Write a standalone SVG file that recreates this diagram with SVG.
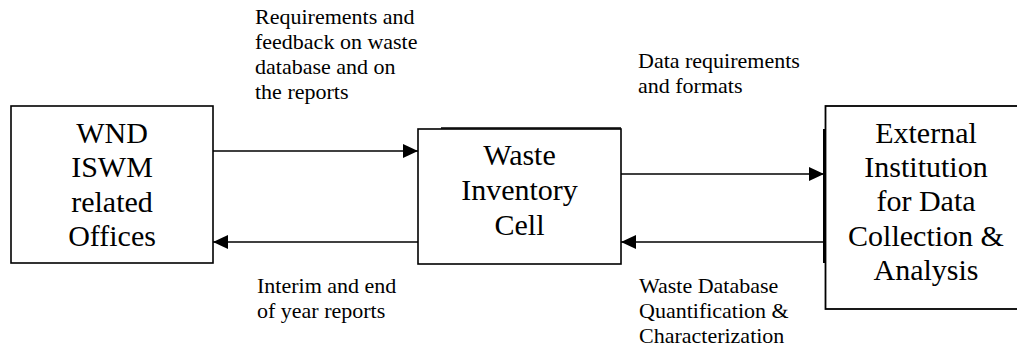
<svg xmlns="http://www.w3.org/2000/svg" width="1017" height="349" viewBox="0 0 1017 349">
<style>
.box{fill:#fff;stroke:#000;stroke-width:1.6}
.conn{stroke:#000;stroke-width:1.6;fill:none}
.bt{font-size:30px;fill:#000;text-anchor:middle}
.lt{font-size:22px;fill:#000}
</style>
<defs>
<marker id="ah" markerUnits="userSpaceOnUse" markerWidth="15" markerHeight="14" refX="15" refY="7" orient="auto">
<path d="M0,0 L15,7 L0,14 z" fill="#000"/>
</marker>
</defs>
<rect width="1017" height="349" fill="#fff"/>
<g id="connectors">
<line class="conn" x1="213" y1="151" x2="418" y2="151" marker-end="url(#ah)"/>
<line class="conn" x1="418" y1="242" x2="213" y2="242" marker-end="url(#ah)"/>
<line class="conn" x1="621" y1="174" x2="824" y2="174" marker-end="url(#ah)"/>
<line class="conn" x1="824" y1="242" x2="621" y2="242" marker-end="url(#ah)"/>
</g>
<g font-family="Liberation Serif, Times New Roman, DejaVu Serif, serif">
<g id="node-wnd">
<rect class="box" x="11" y="106" width="202" height="157"/>
<text class="bt" x="112" y="143">WND</text>
<text class="bt" x="112" y="177">ISWM</text>
<text class="bt" x="112" y="211.5">related</text>
<text class="bt" x="112" y="246">Offices</text>
</g>
<g id="node-wic">
<rect class="box" x="418" y="129" width="203" height="135"/>
<line class="conn" x1="441" y1="128" x2="621" y2="128"/>
<text class="bt" x="519.5" y="165">Waste</text>
<text class="bt" x="519.5" y="200">Inventory</text>
<text class="bt" x="519.5" y="235">Cell</text>
</g>
<g id="node-ext">
<rect class="box" x="825.5" y="106" width="200" height="203" style="stroke-width:1.8"/>
<line class="conn" x1="824" y1="129" x2="824" y2="263" style="stroke-width:2"/>
<text class="bt" x="926" y="143">External</text>
<text class="bt" x="926" y="177">Institution</text>
<text class="bt" x="926" y="211">for Data</text>
<text class="bt" x="926" y="246">Collection &amp;</text>
<text class="bt" x="926" y="280">Analysis</text>
</g>
<g id="labels">
<text class="lt" x="255" y="24">Requirements and</text>
<text class="lt" x="255" y="49">feedback on waste</text>
<text class="lt" x="255" y="74">database and on</text>
<text class="lt" x="255" y="99">the reports</text>
<text class="lt" x="638" y="68">Data requirements</text>
<text class="lt" x="638" y="93">and formats</text>
<text class="lt" x="257" y="293">Interim and end</text>
<text class="lt" x="257" y="318">of year reports</text>
<text class="lt" x="639" y="293">Waste Database</text>
<text class="lt" x="639" y="318">Quantification &amp;</text>
<text class="lt" x="639" y="343">Characterization</text>
</g>
</g>
</svg>
